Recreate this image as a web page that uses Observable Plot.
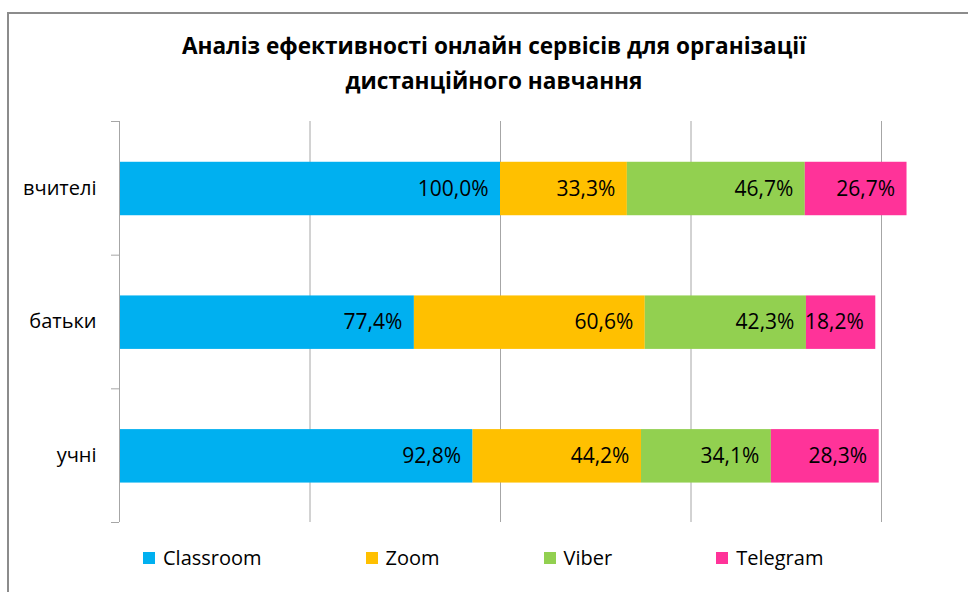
<!DOCTYPE html>
<html>
<head>
<meta charset="utf-8">
<script src="https://cdn.jsdelivr.net/npm/d3@7"></script>
<script src="https://cdn.jsdelivr.net/npm/@observablehq/plot@0.6"></script>
<style>
  html, body { margin: 0; padding: 0; background: #fff; }
  body { width: 968px; height: 592px; overflow: hidden; position: relative; font-family: "Open Sans", sans-serif; color: #000; }
  #frame { position: absolute; left: 7px; top: 12px; width: 1000px; height: 1000px; border: 2px solid #8c8c8c; box-sizing: border-box; }
  #title { position: absolute; left: 0; top: 28px; width: 988px; text-align: center; font-weight: bold; font-size: 22.6px; line-height: 35px; }
  #chart { position: absolute; left: 0; top: 110px; }
  #legend { position: absolute; left: 143px; top: 545px; display: flex; align-items: center; font-size: 20px; line-height: 26px; white-space: nowrap; }
  .item { display: flex; align-items: center; margin-right: 104px; }
  .sw { width: 12px; height: 12px; margin-right: 8px; }
</style>
</head>
<body>
<div id="frame"></div>
<div id="title">Аналіз ефективності онлайн сервісів для організації<br>дистанційного навчання</div>
<div id="chart"></div>
<div id="legend"></div>
<script>
const groups = ["вчителі", "батьки", "учні"];
const services = ["Classroom", "Zoom", "Viber", "Telegram"];
const classroom = [100.0, 77.4, 92.8];
const zoom = [33.3, 60.6, 44.2];
const viber = [46.7, 42.3, 34.1];
const telegram = [26.7, 18.2, 28.3];
const colors = ["#00B0F0", "#FFC000", "#92D050", "#FF3399"];
const xTicks = [0, 50, 100, 150, 200];

const seriesValues = [classroom, zoom, viber, telegram];
const rows = [];
groups.forEach((g, i) => {
  let acc = 0;
  services.forEach((s, j) => {
    const v = seriesValues[j][i];
    rows.push({group: g, idx: i, service: s, value: v, x1: acc, x2: acc + v});
    acc += v;
  });
});

const fmt = v => v.toFixed(1).replace(".", ",") + "%";
const gridColor = "#a6a6a6";

const chart = Plot.plot({
  width: 968,
  height: 425,
  marginTop: 11,
  marginBottom: 13,
  marginLeft: 119,
  marginRight: 87,
  style: {fontFamily: "'Open Sans', sans-serif", color: "#000", background: "transparent", overflow: "visible"},
  x: {domain: [0, 200], axis: null},
  y: {domain: [groups.length, 0], axis: null},
  color: {domain: services, range: colors},
  marks: [
    Plot.ruleX(xTicks.slice(1), {stroke: gridColor, strokeWidth: 1}),
    Plot.rectX(rows, {
      x1: "x1", x2: "x2",
      y1: d => d.idx + 0.305, y2: d => d.idx + 0.705,
      fill: "service"
    }),
    Plot.ruleX([xTicks[0]], {stroke: gridColor, strokeWidth: 1}),
    Plot.axisY({
      ticks: d3.range(groups.length + 1),
      tickSize: 8,
      tickFormat: () => "",
      stroke: gridColor
    }),
    Plot.axisY({
      ticks: groups.map((g, i) => i + 0.5),
      tickSize: 0,
      tickPadding: 23,
      tickFormat: v => groups[Math.floor(v)],
      fontSize: 20,
      fill: "#000"
    }),
    Plot.text(rows, {
      x: "x2",
      y: d => d.idx + 0.505,
      text: d => fmt(d.value),
      textAnchor: "end",
      dx: -12,
      fontSize: 21,
      fill: "#000"
    })
  ]
});
document.getElementById("chart").appendChild(chart);

const legend = document.getElementById("legend");
services.forEach((s, j) => {
  const item = document.createElement("div");
  item.className = "item";
  const sw = document.createElement("span");
  sw.className = "sw";
  sw.style.background = colors[j];
  const t = document.createElement("span");
  t.textContent = s;
  item.appendChild(sw);
  item.appendChild(t);
  legend.appendChild(item);
});
</script>
</body>
</html>
